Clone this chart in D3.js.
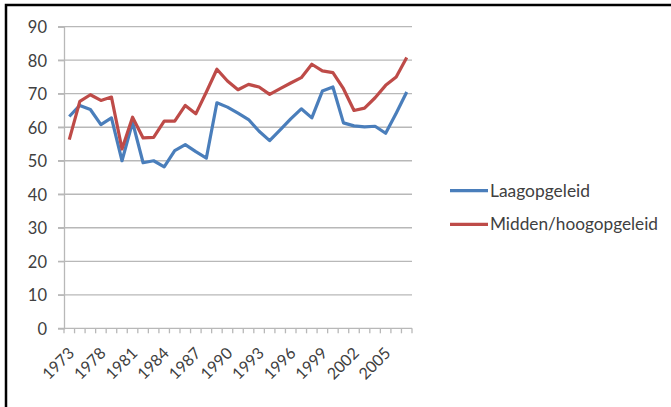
<!DOCTYPE html>
<html>
<head>
<meta charset="utf-8">
<script src="https://cdn.jsdelivr.net/npm/d3@7"></script>
<style>
	body { margin: 0; background: #fff; overflow: hidden; }
	svg { display: block; }
	text { font-family: Lato, "Open Sans", sans-serif; fill: #404040; }
</style>
</head>
<body>
<script>
// Years on the category axis (only every third one gets a label)
var years = ["1973", "1975", "1977", "1978", "1979", "1980", "1981", "1982", "1983", "1984",
	"1985", "1986", "1987", "1988", "1989", "1990", "1991", "1992", "1993", "1994",
	"1995", "1996", "1997", "1998", "1999", "2000", "2001", "2002", "2003", "2004",
	"2005", "2006", "2007"];

// Laagopgeleid (blue line)
var laag = [63.2, 66.5, 65.3, 60.8, 62.8, 50, 61.5, 49.4, 50, 48.2,
	53, 54.8, 52.7, 50.8, 67.3, 66, 64.2, 62.3, 58.8, 56,
	59.2, 62.5, 65.5, 62.8, 70.8, 72, 61.3, 60.4, 60.1, 60.3,
	58.2, 64.2, 70.5];

// Midden/hoogopgeleid (red line)
var midden = [56.3, 67.7, 69.7, 68, 69, 53.5, 63, 56.8, 57, 61.8,
	61.8, 66.5, 64, 70.5, 77.3, 73.8, 71.2, 72.8, 72, 69.8,
	71.5, 73.2, 74.8, 78.8, 76.8, 76.3, 71.5, 65, 65.7, 68.8,
	72.5, 75, 80.8];

var yTicks = [0, 10, 20, 30, 40, 50, 60, 70, 80, 90];
var seriesNames = ["Laagopgeleid", "Midden/hoogopgeleid"];
var seriesColors = ["#4a7ebb", "#be4b48"];

var width = 671;
var height = 407;

var svg = d3.select("body")
			.append("svg")
			.attr("width", width)
			.attr("height", height);

// outer frame, only the left and top edges are in view
svg.append("path")
		.attr("d", "M6," + height + "V5H" + width)
		.attr("fill", "none")
		.attr("stroke", "#000")
		.attr("stroke-width", 2.5);

var x = d3.scaleBand()
		.domain(years)
		.range([64, 412]);

var y = d3.scaleLinear()
		.domain([0, 90])
		.range([328.3, 26.7]);

// horizontal gridlines
svg.append("g")
		.selectAll("line")
		.data(yTicks)
		.join("line")
		.attr("x1", 58)
		.attr("x2", 412)
		.attr("y1", d => y(d))
		.attr("y2", d => y(d))
		.attr("stroke", "#b8b8b8")
		.attr("stroke-width", 1.3);

// y axis
var yAxis = svg.append("g")
		.attr("transform", "translate(64,0)")
		.call(d3.axisLeft(y).tickValues(yTicks).tickSize(6).tickPadding(11));
yAxis.select(".domain").attr("stroke", "#b8b8b8").attr("stroke-width", 1.3);
yAxis.selectAll(".tick line").attr("stroke", "#b8b8b8").attr("stroke-width", 1.3);
yAxis.selectAll("text")
		.style("font-size", "16.5px")
		.attr("fill", "#404040")
		.attr("dy", "0.36em");

// x axis ticks between categories
var tickPos = years.map(d => x(d)).concat([x.range()[1]]);
svg.append("g")
		.selectAll("line")
		.data(tickPos)
		.join("line")
		.attr("x1", d => d)
		.attr("x2", d => d)
		.attr("y1", y(0))
		.attr("y2", y(0) + 5)
		.attr("stroke", "#b8b8b8")
		.attr("stroke-width", 1.3);

// x labels, every third year, rotated
svg.append("g")
		.selectAll("text")
		.data(years.filter((d, i) => i % 3 == 0))
		.join("text")
		.attr("transform", d => "translate(" + (x(d) + x.bandwidth() / 2 + 6) + "," + (y(0) + 26) + ") rotate(-45)")
		.attr("text-anchor", "end")
		.style("font-size", "16px")
		.text(d => d);

// lines
var line = d3.line()
		.x((d, i) => x(years[i]) + x.bandwidth() / 2)
		.y(d => y(d));

var allSeries = [laag, midden];
allSeries.forEach(function(values, k) {
	svg.append("path")
			.datum(values)
			.attr("d", line)
			.attr("fill", "none")
			.attr("stroke", seriesColors[k])
			.attr("stroke-width", 3.2)
			.attr("stroke-linejoin", "round");
});

// legend
var legend = svg.append("g");
seriesNames.forEach(function(name, k) {
	var ly = 190.7 + k * 33.6;
	legend.append("line")
			.attr("x1", 450)
			.attr("x2", 488)
			.attr("y1", ly)
			.attr("y2", ly)
			.attr("stroke", seriesColors[k])
			.attr("stroke-width", 3.2);
	legend.append("text")
			.attr("x", 490)
			.attr("y", ly + 6)
			.attr("textLength", k == 0 ? 100 : 168)
			.attr("lengthAdjust", "spacingAndGlyphs")
			.style("font-size", "17px")
			.text(name);
});
</script>
</body>
</html>
